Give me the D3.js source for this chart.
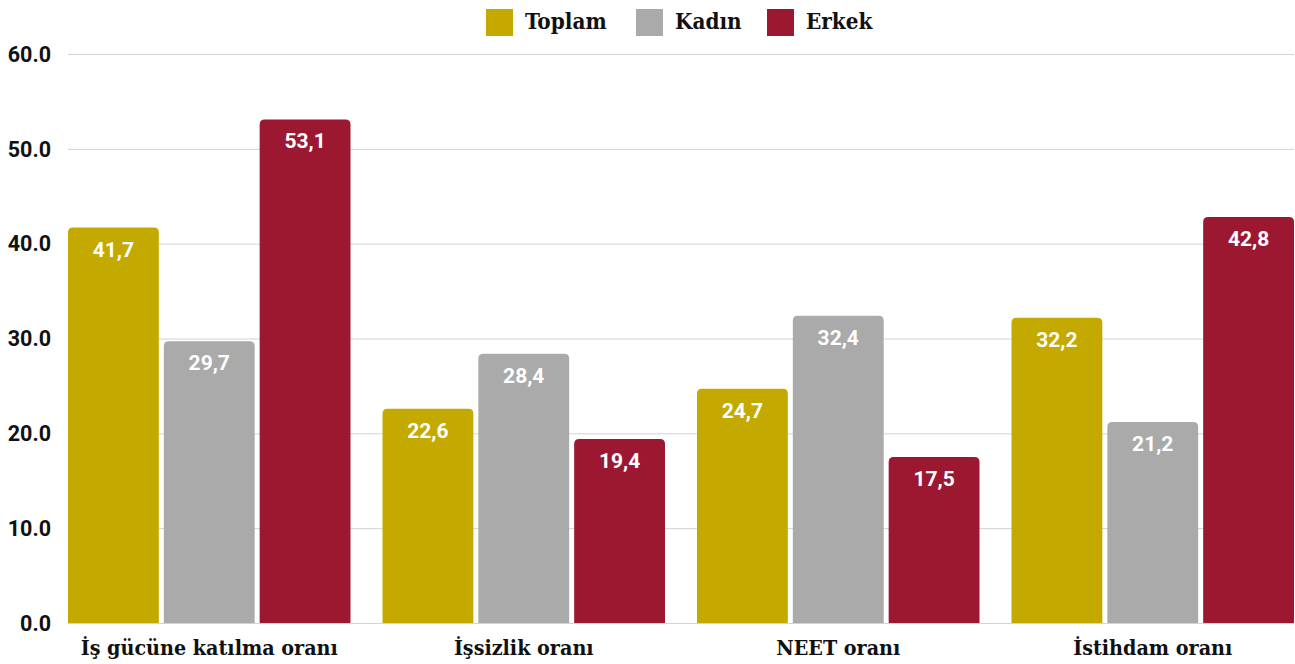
<!DOCTYPE html>
<html><head><meta charset="utf-8">
<script src="https://cdn.jsdelivr.net/npm/d3@7"></script>
<style>body{margin:0;background:#fff}svg{display:block}</style>
</head><body>
<svg id="c" width="1295" height="664"></svg>
<script>
const categories = ["İş gücüne katılma oranı", "İşsizlik oranı", "NEET oranı", "İstihdam oranı"];
const seriesNames = ["Toplam", "Kadın", "Erkek"];
const toplam = [41.7, 22.6, 24.7, 32.2];
const kadin = [29.7, 28.4, 32.4, 21.2];
const erkek = [53.1, 19.4, 17.5, 42.8];
const yTicks = [0, 10, 20, 30, 40, 50, 60];
const colors = ["#c4a900", "#aaaaaa", "#9c1830"];

(function () {
const values = [toplam, kadin, erkek];
const svg = d3.select("#c");
const pl = 68, pr = 1294, pt = 54, pb = 623;
const y = d3.scaleLinear().domain([0, 60]).range([pb, pt]);
const x0 = d3.scaleBand().domain(categories).range([pl, pr]).paddingInner(32/314.5).paddingOuter(0);
const x1 = d3.scaleBand().domain(seriesNames).range([0, x0.bandwidth()]).paddingInner(5/96).paddingOuter(0);

const sans = "Roboto, 'Noto Sans', sans-serif";
const serif = "'DejaVu Serif Condensed', 'DejaVu Serif', serif";

svg.append("g").selectAll("line").data(yTicks).join("line")
  .attr("x1", pl).attr("x2", pr)
  .attr("y1", d => y(d) + 0.5).attr("y2", d => y(d) + 0.5)
  .attr("stroke", "#d3d3d3").attr("stroke-width", 1);

svg.append("g").selectAll("text").data(yTicks).join("text")
  .attr("x", 51).attr("y", d => y(d)).attr("dy", "0.36em")
  .attr("text-anchor", "end").attr("font-family", sans).attr("font-weight", 700)
  .attr("font-size", 21.5).attr("fill", "#111").text(d => d.toFixed(1));

function topRounded(x, y0, w, h, r) {
  r = Math.min(r, h, w / 2);
  return `M${x},${y0 + h}V${y0 + r}Q${x},${y0} ${x + r},${y0}H${x + w - r}Q${x + w},${y0} ${x + w},${y0 + r}V${y0 + h}Z`;
}

const data = [];
categories.forEach((c, i) => seriesNames.forEach((s, j) => data.push({c, s, j, v: values[j][i]})));

const bars = svg.append("g");
bars.selectAll("path").data(data).join("path")
  .attr("d", d => {
    const bx = x0(d.c) + x1(d.s);
    return topRounded(bx, y(d.v), x1.bandwidth(), pb - y(d.v), 5);
  })
  .attr("fill", d => colors[d.j]);

bars.selectAll("text").data(data).join("text")
  .attr("x", d => x0(d.c) + x1(d.s) + x1.bandwidth() / 2)
  .attr("y", d => y(d.v) + 29)
  .attr("text-anchor", "middle").attr("font-family", sans).attr("font-weight", 700)
  .attr("font-size", 21).attr("fill", "#fff")
  .text(d => d.v.toFixed(1).replace(".", ","));

svg.append("g").selectAll("text").data(categories).join("text")
  .attr("x", d => x0(d) + x0.bandwidth() / 2).attr("y", 655)
  .attr("text-anchor", "middle").attr("font-family", serif).attr("font-weight", 700)
  .attr("font-size", 21.3).attr("fill", "#111").text(d => d);

const legendX = [486, 636, 767];
const lg = svg.append("g");
seriesNames.forEach((s, j) => {
  lg.append("rect").attr("x", legendX[j]).attr("y", 9).attr("width", 27).attr("height", 27).attr("fill", colors[j]);
  lg.append("text").attr("x", legendX[j] + 39).attr("y", 29)
    .attr("font-family", serif).attr("font-weight", 700).attr("font-size", 22.3)
    .attr("fill", "#111").text(s);
});
})();
</script>
</body></html>
